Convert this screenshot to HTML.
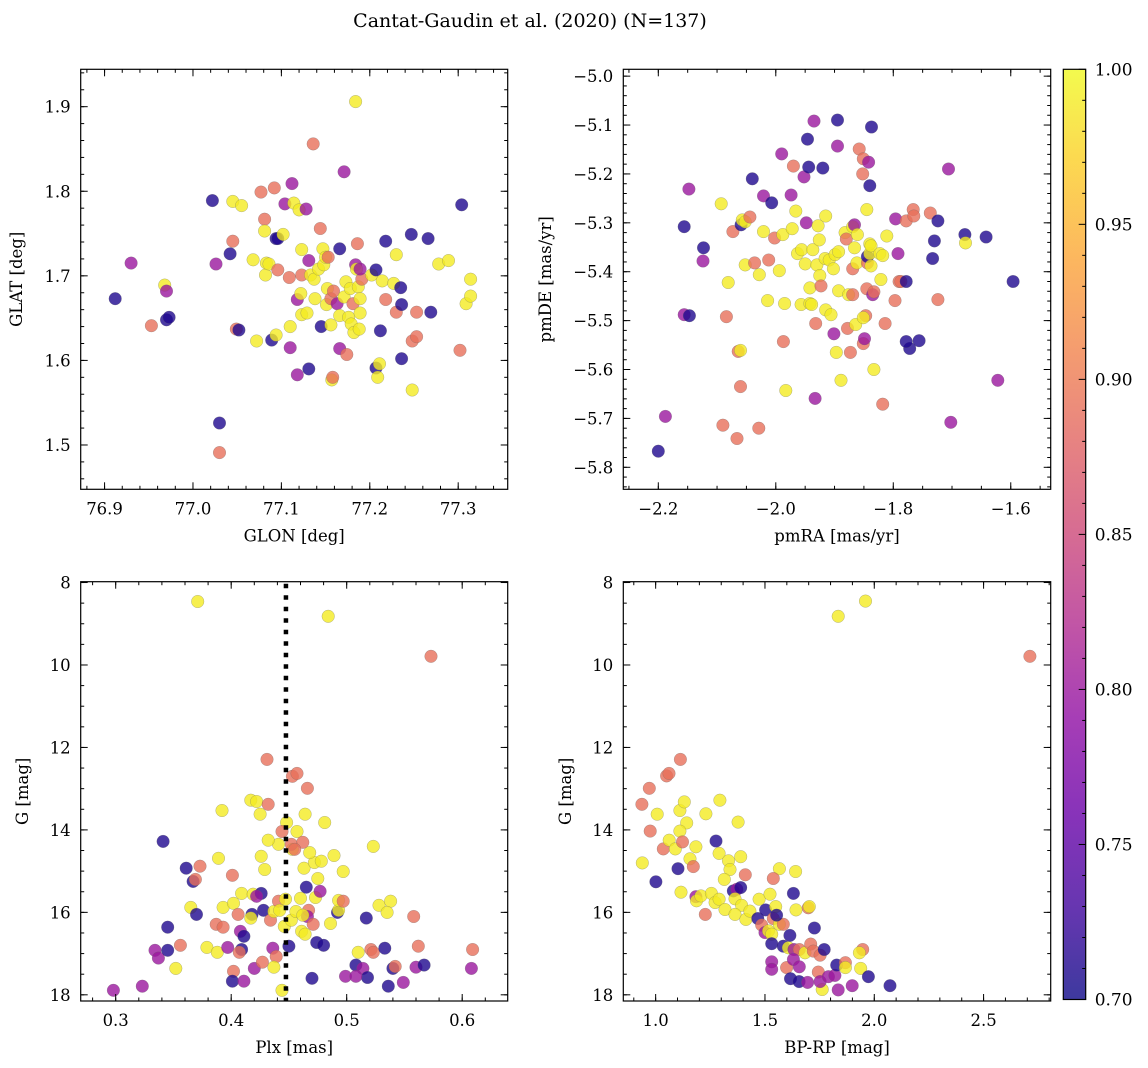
<!DOCTYPE html>
<html><head><meta charset="utf-8">
<style>
html,body{margin:0;padding:0;background:#fff;}
svg{display:block;font-family:"DejaVu Serif","Liberation Serif",serif;}
</style></head>
<body>
<svg id="fig" width="1148" height="1068" viewBox="0 0 1148 1068" xmlns="http://www.w3.org/2000/svg">
<defs>
<linearGradient id="cbgrad" x1="0" y1="1" x2="0" y2="0">
<stop offset="0" stop-color="#0d0887"/><stop offset="0.1" stop-color="#41049d"/><stop offset="0.2" stop-color="#6a00a8"/><stop offset="0.3" stop-color="#8f0da4"/><stop offset="0.4" stop-color="#b12a90"/><stop offset="0.5" stop-color="#cc4778"/><stop offset="0.6" stop-color="#e16462"/><stop offset="0.7" stop-color="#f2844b"/><stop offset="0.8" stop-color="#fca636"/><stop offset="0.9" stop-color="#fcce25"/><stop offset="1" stop-color="#f0f921"/>
</linearGradient>
</defs>
<text x="530" y="27" font-size="19" text-anchor="middle">Cantat-Gaudin et al. (2020) (N=137)</text>
</svg>
<script>
// ---------- Panel 1: GLON / GLAT ----------
const glon=[76.912,76.930,76.953,76.968,76.970,76.970,76.973,77.022,77.026,77.030,77.030,77.042,77.045,77.045,77.055,77.049,77.052,77.068,77.072,77.077,77.081,77.081,77.082,77.083,77.086,77.089,77.092,77.094,77.096,77.096,77.094,77.102,77.104,77.109,77.110,77.110,77.112,77.114,77.118,77.118,77.120,77.122,77.123,77.123,77.123,77.128,77.129,77.131,77.133,77.131,77.136,77.137,77.138,77.142,77.144,77.145,77.147,77.148,77.150,77.151,77.152,77.153,77.156,77.157,77.158,77.156,77.159,77.163,77.166,77.166,77.166,77.171,77.171,77.173,77.174,77.176,77.178,77.179,77.181,77.182,77.184,77.184,77.185,77.187,77.186,77.188,77.189,77.191,77.189,77.189,77.202,77.207,77.207,77.211,77.209,77.212,77.214,77.218,77.218,77.227,77.230,77.230,77.235,77.236,77.236,77.247,77.248,77.253,77.266,77.269,77.278,77.289,77.248,77.253,77.304,77.309,77.314,77.314,77.302];
const glat=[1.673,1.715,1.641,1.689,1.682,1.648,1.651,1.789,1.714,1.526,1.491,1.726,1.741,1.788,1.783,1.637,1.636,1.719,1.623,1.799,1.767,1.753,1.701,1.715,1.714,1.624,1.804,1.744,1.744,1.707,1.630,1.749,1.785,1.698,1.640,1.615,1.809,1.786,1.583,1.672,1.778,1.679,1.731,1.701,1.654,1.779,1.656,1.718,1.701,1.590,1.856,1.696,1.673,1.708,1.756,1.640,1.732,1.713,1.722,1.666,1.685,1.722,1.673,1.577,1.580,1.642,1.682,1.667,1.732,1.653,1.614,1.823,1.675,1.693,1.607,1.651,1.685,1.643,1.667,1.633,1.906,1.713,1.708,1.687,1.738,1.637,1.673,1.696,1.708,1.656,1.701,1.707,1.591,1.596,1.580,1.635,1.694,1.741,1.672,1.691,1.725,1.657,1.686,1.666,1.602,1.749,1.623,1.657,1.744,1.657,1.714,1.718,1.565,1.628,1.784,1.667,1.696,1.676,1.612];
const prob1=[.71,.80,.89,.99,.80,.71,.71,.71,.80,.71,.89,.71,.89,.99,.99,.89,.71,.99,.99,.89,.89,.99,.99,.99,.99,.71,.89,.71,.71,.89,.99,.99,.80,.89,.99,.80,.80,.99,.80,.80,.99,.99,.99,.89,.99,.80,.99,.80,.99,.71,.89,.99,.99,.99,.89,.71,.99,.99,.99,.99,.99,.89,.89,.99,.89,.99,.89,.80,.71,.99,.80,.80,.99,.99,.89,.99,.99,.99,.89,.99,.99,.80,.99,.99,.89,.99,.99,.89,.80,.99,.99,.71,.71,.99,.99,.71,.99,.71,.89,.99,.99,.89,.71,.71,.71,.71,.89,.89,.71,.71,.99,.99,.99,.89,.71,.99,.99,.99,.89];
const p1XTicks=["76.9","77.0","77.1","77.2","77.3"];
const p1YTicks=["1.5","1.6","1.7","1.8","1.9"];

// ---------- Panel 2: pmRA / pmDE ----------
const pmra=[-2.200,-2.188,-2.156,-2.148,-2.147,-2.123,-2.124,-2.156,-2.093,-2.090,-2.084,-2.081,-2.073,-2.066,-2.064,-2.060,-2.060,-2.059,-2.057,-2.052,-2.052,-2.044,-2.040,-2.036,-2.028,-2.029,-2.021,-2.021,-2.014,-2.012,-2.007,-2.002,-1.994,-1.990,-1.988,-1.987,-1.985,-1.983,-1.974,-1.972,-1.970,-1.966,-1.963,-1.957,-1.956,-1.952,-1.950,-1.948,-1.944,-1.942,-1.942,-1.939,-1.937,-1.935,-1.946,-1.933,-1.932,-1.930,-1.928,-1.926,-1.925,-1.923,-1.916,-1.915,-1.915,-1.920,-1.909,-1.906,-1.902,-1.899,-1.895,-1.895,-1.901,-1.893,-1.893,-1.897,-1.889,-1.882,-1.880,-1.876,-1.878,-1.873,-1.869,-1.869,-1.869,-1.866,-1.866,-1.864,-1.862,-1.861,-1.858,-1.851,-1.849,-1.852,-1.851,-1.845,-1.847,-1.851,-1.845,-1.844,-1.844,-1.842,-1.840,-1.840,-1.840,-1.838,-1.838,-1.837,-1.835,-1.833,-1.833,-1.823,-1.821,-1.818,-1.818,-1.814,-1.811,-1.797,-1.796,-1.792,-1.790,-1.787,-1.778,-1.778,-1.772,-1.778,-1.766,-1.765,-1.756,-1.737,-1.730,-1.724,-1.724,-1.733,-1.706,-1.702,-1.678,-1.677,-1.642,-1.622,-1.596];
const pmde=[-5.767,-5.696,-5.488,-5.231,-5.490,-5.351,-5.378,-5.308,-5.261,-5.714,-5.492,-5.422,-5.318,-5.741,-5.563,-5.561,-5.635,-5.304,-5.294,-5.298,-5.386,-5.288,-5.210,-5.382,-5.406,-5.720,-5.318,-5.245,-5.459,-5.376,-5.259,-5.331,-5.398,-5.159,-5.324,-5.543,-5.465,-5.643,-5.243,-5.312,-5.184,-5.276,-5.363,-5.467,-5.355,-5.206,-5.384,-5.300,-5.186,-5.433,-5.465,-5.467,-5.355,-5.092,-5.129,-5.659,-5.506,-5.386,-5.306,-5.335,-5.408,-5.429,-5.373,-5.478,-5.286,-5.188,-5.376,-5.488,-5.394,-5.365,-5.090,-5.143,-5.527,-5.439,-5.359,-5.565,-5.622,-5.320,-5.333,-5.447,-5.516,-5.565,-5.308,-5.394,-5.447,-5.351,-5.304,-5.508,-5.382,-5.324,-5.149,-5.547,-5.537,-5.200,-5.169,-5.435,-5.490,-5.494,-5.273,-5.382,-5.369,-5.176,-5.363,-5.224,-5.343,-5.347,-5.388,-5.104,-5.447,-5.600,-5.441,-5.363,-5.416,-5.671,-5.367,-5.506,-5.327,-5.459,-5.292,-5.363,-5.420,-5.420,-5.420,-5.296,-5.557,-5.543,-5.273,-5.286,-5.541,-5.280,-5.337,-5.296,-5.457,-5.373,-5.190,-5.708,-5.324,-5.341,-5.329,-5.622,-5.420];
const prob2=[.71,.80,.80,.80,.71,.71,.80,.71,.99,.89,.89,.99,.89,.89,.89,.99,.89,.71,.99,.99,.99,.89,.71,.89,.99,.89,.99,.80,.99,.89,.71,.89,.99,.80,.99,.89,.99,.99,.80,.99,.89,.99,.99,.99,.99,.80,.99,.80,.71,.99,.99,.99,.99,.80,.71,.80,.89,.99,.99,.99,.99,.89,.99,.99,.99,.71,.99,.99,.99,.99,.71,.80,.80,.99,.99,.99,.99,.99,.89,.99,.89,.89,.99,.89,.89,.99,.80,.99,.99,.99,.89,.89,.80,.89,.89,.89,.89,.99,.99,.89,.71,.80,.99,.71,.99,.99,.99,.71,.80,.99,.89,.99,.99,.89,.99,.89,.99,.89,.80,.80,.89,.89,.71,.89,.71,.71,.89,.89,.71,.89,.71,.71,.89,.71,.80,.80,.71,.99,.71,.80,.71];
const p2XTicks=["\u22122.2","\u22122.0","\u22121.8","\u22121.6"];
const p2YTicks=["\u22125.8","\u22125.7","\u22125.6","\u22125.5","\u22125.4","\u22125.3","\u22125.2","\u22125.1","\u22125.0"];

// ---------- Panel 3: Plx / G ----------
const plx=[0.298,0.323,0.334,0.337,0.345,0.356,0.352,0.341,0.361,0.373,0.367,0.369,0.365,0.370,0.345,0.371,0.392,0.389,0.401,0.387,0.393,0.379,0.388,0.397,0.408,0.411,0.409,0.407,0.402,0.401,0.411,0.420,0.427,0.436,0.439,0.437,0.444,0.393,0.402,0.409,0.419,0.426,0.422,0.406,0.418,0.417,0.428,0.434,0.437,0.441,0.442,0.446,0.447,0.450,0.452,0.456,0.460,0.465,0.467,0.466,0.462,0.461,0.464,0.471,0.473,0.477,0.475,0.463,0.472,0.478,0.468,0.474,0.480,0.470,0.486,0.492,0.493,0.493,0.497,0.497,0.489,0.481,0.464,0.457,0.453,0.452,0.462,0.455,0.448,0.444,0.441,0.432,0.426,0.429,0.425,0.417,0.422,0.432,0.431,0.453,0.457,0.466,0.484,0.573,0.523,0.517,0.528,0.538,0.535,0.558,0.510,0.521,0.523,0.533,0.508,0.514,0.518,0.499,0.508,0.536,0.540,0.542,0.549,0.560,0.567,0.562,0.609,0.608];
const gmag3=[17.89,17.79,16.92,17.11,16.92,16.80,17.36,14.28,14.93,14.88,15.25,15.20,15.88,16.05,16.36,8.46,13.53,14.69,15.10,16.29,16.36,16.85,16.97,16.85,16.46,16.58,16.90,16.97,17.43,17.67,17.67,17.36,17.21,16.87,17.07,17.33,17.89,15.88,15.78,15.54,15.56,15.54,15.61,16.05,16.05,16.14,15.95,16.19,15.98,15.73,15.95,16.34,15.68,16.82,16.19,15.98,15.66,15.39,15.95,16.10,16.07,16.46,16.53,16.29,15.64,15.49,15.18,14.93,14.79,14.76,14.55,16.73,16.80,17.60,16.27,16.00,15.95,15.71,15.73,15.01,14.62,13.82,13.62,14.04,14.47,14.35,14.30,14.47,13.82,14.04,14.35,14.25,14.64,14.96,13.62,13.28,13.31,13.38,12.29,12.70,12.63,12.99,8.82,9.79,14.40,16.14,15.83,15.73,16.00,16.10,16.97,16.90,16.97,16.87,17.28,17.36,17.58,17.55,17.55,17.79,17.36,17.31,17.70,17.33,17.28,16.82,16.90,17.36];
const prob3=[.80,.80,.80,.80,.71,.89,.99,.71,.71,.89,.71,.89,.99,.71,.71,.99,.99,.99,.89,.89,.89,.99,.99,.80,.80,.71,.71,.89,.89,.71,.80,.80,.89,.80,.89,.99,.99,.99,.99,.99,.99,.71,.80,.89,.71,.99,.71,.89,.99,.89,.99,.99,.99,.71,.99,.99,.99,.71,.89,.80,.99,.99,.99,.89,.99,.80,.99,.99,.99,.99,.99,.71,.71,.71,.99,.71,.99,.99,.89,.99,.99,.99,.99,.99,.99,.89,.89,.89,.99,.89,.99,.99,.99,.99,.99,.99,.99,.89,.89,.89,.89,.89,.99,.89,.99,.71,.99,.99,.99,.89,.99,.89,.89,.71,.71,.80,.71,.80,.80,.71,.71,.89,.80,.80,.71,.89,.89,.80];
const plxRef=[0.4474];
const p3XTicks=["0.3","0.4","0.5","0.6"];
const gTicks=["8","10","12","14","16","18"];

// ---------- Panel 4: BP-RP / G ----------
const bprp=[0.939,1.001,0.937,0.971,0.975,1.007,1.050,1.061,1.113,1.111,1.131,1.142,1.111,1.035,1.062,1.090,1.123,1.184,1.157,1.172,1.102,1.116,1.184,1.187,1.207,1.230,1.255,1.227,1.276,1.290,1.294,1.333,1.340,1.314,1.272,1.290,1.317,1.355,1.371,1.389,1.389,1.377,1.410,1.363,1.393,1.363,1.413,1.431,1.467,1.503,1.473,1.523,1.549,1.566,1.538,1.630,1.640,1.642,1.698,1.703,1.485,1.500,1.516,1.531,1.538,1.566,1.584,1.553,1.614,1.726,1.531,1.584,1.607,1.633,1.657,1.683,1.709,1.721,1.752,1.771,1.531,1.531,1.599,1.630,1.657,1.617,1.656,1.695,1.744,1.762,1.752,1.790,1.820,1.828,1.868,1.868,1.835,1.899,1.938,1.947,1.932,1.973,2.072,1.835,1.960,2.712];
const gmag4=[14.80,15.26,13.38,12.99,14.03,13.62,12.69,12.63,12.29,13.53,13.32,13.83,14.03,14.46,14.25,14.46,14.29,14.41,14.70,14.89,14.94,15.51,15.62,15.72,15.60,13.61,15.54,16.05,14.27,14.57,13.28,14.75,14.96,15.20,15.76,15.68,15.93,15.48,15.44,15.40,14.65,13.81,15.09,15.67,15.83,16.05,16.17,15.97,16.15,15.94,15.68,15.56,15.86,14.94,15.18,15.54,15.01,15.94,15.89,15.86,16.31,16.49,16.45,16.53,16.15,16.29,16.29,16.07,16.56,16.38,16.76,16.82,16.86,16.90,16.90,16.98,16.77,16.94,17.04,16.90,17.20,17.38,17.34,17.14,17.32,17.61,17.68,17.70,17.45,17.87,17.68,17.56,17.53,17.28,17.22,17.34,17.88,17.78,17.36,16.90,16.98,17.56,17.78,8.82,8.45,9.79];
const prob4=[.99,.71,.89,.89,.89,.99,.89,.89,.89,.99,.99,.99,.99,.89,.99,.99,.89,.99,.99,.89,.71,.99,.80,.99,.99,.99,.99,.89,.71,.99,.99,.99,.99,.99,.99,.99,.99,.71,.80,.71,.99,.99,.89,.99,.99,.99,.99,.99,.71,.71,.99,.99,.99,.99,.89,.71,.99,.99,.89,.99,.89,.80,.99,.99,.89,.99,.89,.71,.71,.71,.71,.71,.99,.80,.89,.99,.89,.89,.89,.71,.80,.80,.89,.80,.80,.71,.71,.80,.89,.99,.80,.80,.80,.71,.89,.99,.80,.80,.99,.89,.99,.71,.71,.99,.99,.89];
const p4XTicks=["1.0","1.5","2.0","2.5"];

// ---------- Colorbar ----------
const cbTicks=["0.70","0.75","0.80","0.85","0.90","0.95","1.00"];
const cbMin=0.70, cbMax=1.00;

const NS="http://www.w3.org/2000/svg";
const svg=document.getElementById('fig');
function mk(tag,attrs,parent){const e=document.createElementNS(NS,tag);for(const k in attrs)e.setAttribute(k,attrs[k]);(parent||svg).appendChild(e);return e;}

const stops=["#0d0887","#41049d","#6a00a8","#8f0da4","#b12a90","#cc4778","#e16462","#f2844b","#fca636","#fcce25","#f0f921"];
function hex(h){return [parseInt(h.slice(1,3),16),parseInt(h.slice(3,5),16),parseInt(h.slice(5,7),16)];}
function plasma(v){let t=(v-cbMin)/(cbMax-cbMin);t=Math.max(0,Math.min(1,t))*10;const i=Math.min(9,Math.floor(t)),f=t-i;const a=hex(stops[i]),b=hex(stops[i+1]);return `rgb(${a.map((c,j)=>Math.round(c+(b[j]-c)*f)).join(',')})`;}

function makeAxis(d0,d1,p0,p1){return v=>p0+(v-d0)/(d1-d0)*(p1-p0);}

function panel(cfg){
  const g=mk('g',{});
  
  
  const {L,R,T,B}=cfg;
  const sx=makeAxis(cfg.xd[0],cfg.xd[1],L,R);
  const sy=makeAxis(cfg.yd[0],cfg.yd[1],B,T);
  const cid='clip-'+cfg.name;
  const cp=mk('clipPath',{id:cid},g);mk('rect',{x:L,y:T,width:R-L,height:B-T},cp);
  const pts=mk('g',{'clip-path':`url(#${cid})`},g);
  
  
  for(let i=0;i<cfg.xs.length;i++){
    const c=mk('circle',{cx:sx(cfg.xs[i]).toFixed(1),cy:sy(cfg.ys[i]).toFixed(1),r:6.3,fill:plasma(cfg.ps[i]),'fill-opacity':0.8,stroke:'#666','stroke-width':0.4,'stroke-opacity':0.6},pts);
    
    
  }
  if(cfg.vline){
    for(const v of cfg.vline){
      const ln=mk('line',{x1:sx(v),x2:sx(v),y1:T+2,y2:B,stroke:'#000','stroke-width':4.5,'stroke-dasharray':'4.5 7'},pts);
      
      
    }
  }
  const frame=mk('rect',{x:L,y:T,width:R-L,height:B-T,fill:'none',stroke:'#000','stroke-width':1.2},g);
  
  
  const tk=mk('g',{stroke:'#000','stroke-width':1},g);
  function ticks(lo,hi,step,len,axis){
    const n0=Math.ceil(lo/step-1e-6),n1=Math.floor(hi/step+1e-6);
    for(let n=n0;n<=n1;n++){const v=n*step;
      if(axis==='x'){const x=sx(v);mk('line',{x1:x,x2:x,y1:B,y2:B-len},tk);mk('line',{x1:x,x2:x,y1:T,y2:T+len},tk);}
      else{const y=sy(v);mk('line',{x1:L,x2:L+len,y1:y,y2:y},tk);mk('line',{x1:R,x2:R-len,y1:y,y2:y},tk);}
    }
  }
  const xlo=Math.min(...cfg.xd),xhi=Math.max(...cfg.xd),ylo=Math.min(...cfg.yd),yhi=Math.max(...cfg.yd);
  ticks(xlo,xhi,cfg.xminor,3.5,'x');ticks(xlo,xhi,cfg.xmajor,7,'x');
  ticks(ylo,yhi,cfg.yminor,3.5,'y');ticks(ylo,yhi,cfg.ymajor,7,'y');
  cfg.xt.forEach(s=>{const v=parseFloat(s.replace('\u2212','-'));const t=mk('text',{x:sx(v),y:B+25,'font-size':16.5,'text-anchor':'middle'},g);t.textContent=s;
    });
  cfg.yt.forEach(s=>{const v=parseFloat(s.replace('\u2212','-'));const t=mk('text',{x:L-10,y:sy(v)+6,'font-size':16.5,'text-anchor':'end'},g);t.textContent=s;
    });
  const xl=mk('text',{x:(L+R)/2,y:B+52,'font-size':16.5,'text-anchor':'middle'},g);xl.textContent=cfg.xlabel;
  
  const yx=cfg.ylx,yy=(T+B)/2;
  const yl=mk('text',{x:yx,y:yy,'font-size':16.5,'text-anchor':'middle',transform:`rotate(-90 ${yx} ${yy})`},g);yl.textContent=cfg.ylabel;
  
}

panel({name:'sky-position-panel',L:80.7,R:507.7,T:69.3,B:489.3,xd:[76.873,77.356],yd:[1.4476,1.9442],xs:glon,ys:glat,ps:prob1,
  xmajor:0.1,xminor:0.02,ymajor:0.1,yminor:0.02,xt:p1XTicks,yt:p1YTicks,xlabel:'GLON [deg]',ylabel:'GLAT [deg]',ylx:22});
panel({name:'proper-motion-panel',L:623.3,R:1050.7,T:69.3,B:489.3,xd:[-2.2596,-1.532],yd:[-5.845,-4.986],xs:pmra,ys:pmde,ps:prob2,
  xmajor:0.2,xminor:0.05,ymajor:0.1,yminor:0.02,xt:p2XTicks,yt:p2YTicks,xlabel:'pmRA [mas/yr]',ylabel:'pmDE [mas/yr]',ylx:551});
panel({name:'parallax-panel',L:80.7,R:507.7,T:581.7,B:1001,xd:[0.2697,0.6394],yd:[18.15,7.98],xs:plx,ys:gmag3,ps:prob3,vline:plxRef,
  xmajor:0.1,xminor:0.02,ymajor:2,yminor:0.5,xt:p3XTicks,yt:gTicks,xlabel:'Plx [mas]',ylabel:'G [mag]',ylx:28});
panel({name:'cmd-panel',L:623.3,R:1050.7,T:581.7,B:1001,xd:[0.852,2.807],yd:[18.15,7.98],xs:bprp,ys:gmag4,ps:prob4,
  xmajor:0.5,xminor:0.1,ymajor:2,yminor:0.5,xt:p4XTicks,yt:gTicks,xlabel:'BP-RP [mag]',ylabel:'G [mag]',ylx:571});

(function(){
  const L=1063.3,R=1085.7,T=69.3,B=999.5;
  const g=mk('g',{});
  
  
  mk('rect',{x:L,y:T,width:R-L,height:B-T,fill:'url(#cbgrad)','fill-opacity':0.8},g);
  mk('rect',{x:L,y:T,width:R-L,height:B-T,fill:'none',stroke:'#000','stroke-width':1.2},g);
  const sy=makeAxis(cbMin,cbMax,B,T);
  for(let n=70;n<=100;n++){const y=sy(n/100);const len=(n%5===0)?7:3.5;mk('line',{x1:R,x2:R-len,y1:y,y2:y,stroke:'#000','stroke-width':1},g);}
  cbTicks.forEach(s=>{const t=mk('text',{x:R+9,y:sy(parseFloat(s))+6,'font-size':17},g);t.textContent=s;
    });
})();
</script>
</body></html>
